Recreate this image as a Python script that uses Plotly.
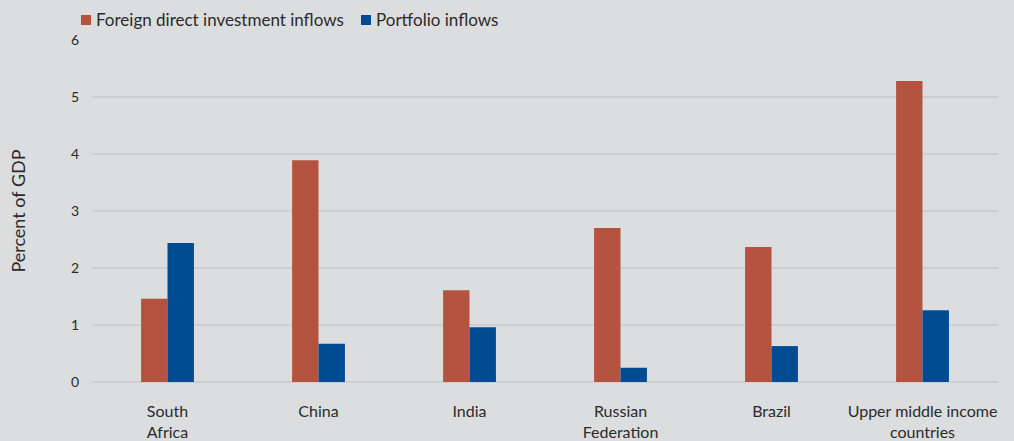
import plotly.graph_objects as go

categories = ["South<br>Africa", "China", "India", "Russian<br>Federation", "Brazil",
              "Upper middle income<br>countries"]
fdi_name = "Foreign direct investment inflows"
portfolio_name = "Portfolio inflows"
fdi_values = [1.46, 3.89, 1.61, 2.70, 2.37, 5.28]
portfolio_values = [2.44, 0.67, 0.96, 0.25, 0.63, 1.26]
y_ticks = [0, 1, 2, 3, 4, 5, 6]

RED = "#B35340"
BLUE = "#004B91"
BG = "#DCDDDF"
GRID = "#CDCED0"
TXT = "#2B2B2B"
FONT = "Lato"

fig = go.Figure()
fig.add_trace(go.Bar(x=categories, y=fdi_values, name=fdi_name, marker_color=RED,
                     marker_line_width=0, showlegend=False))
fig.add_trace(go.Bar(x=categories, y=portfolio_values, name=portfolio_name, marker_color=BLUE,
                     marker_line_width=0, showlegend=False))

# manual legend (tight symbol-text spacing like the reference)
legend_items = [(fdi_name, RED, 81), (portfolio_name, BLUE, 361)]
for name, color, px in legend_items:
    fig.add_shape(type="rect", xref="paper", yref="paper",
                  x0=(px - 92) / 906, x1=(px + 10 - 92) / 906,
                  y0=(382 - 25) / 342, y1=(382 - 15) / 342,
                  fillcolor=color, line_width=0)
    fig.add_annotation(text=name, xref="paper", yref="paper",
                       x=(px + 13 - 92) / 906, y=(382 - 20) / 342,
                       xanchor="left", yanchor="middle", showarrow=False,
                       font=dict(family=FONT, size=17, color=TXT))

fig.update_layout(
    width=1014, height=441,
    margin=dict(l=92, r=16, t=40, b=59, autoexpand=False),
    paper_bgcolor=BG, plot_bgcolor=BG,
    barmode="group", bargap=0.65, bargroupgap=0,
    font=dict(family=FONT, color=TXT, size=15),
)
fig.update_xaxes(showgrid=False, showline=False, ticks="", ticklabelstandoff=18,
                 automargin=False,
                 tickfont=dict(size=16, family=FONT, color=TXT))
fig.update_yaxes(range=[0, 6], tickvals=y_ticks, showgrid=True, gridcolor=GRID, gridwidth=2,
                 zeroline=True, zerolinecolor=GRID, zerolinewidth=2, showline=False,
                 ticks="", ticklabelstandoff=12, automargin=False,
                 tickfont=dict(size=14, family=FONT, color=TXT),
                 title=dict(text="Percent of GDP", font=dict(size=18, family=FONT, color=TXT),
                            standoff=40))

fig.write_html("out.html", post_script="document.body.style.margin='0';",
               config={"displayModeBar": False})
